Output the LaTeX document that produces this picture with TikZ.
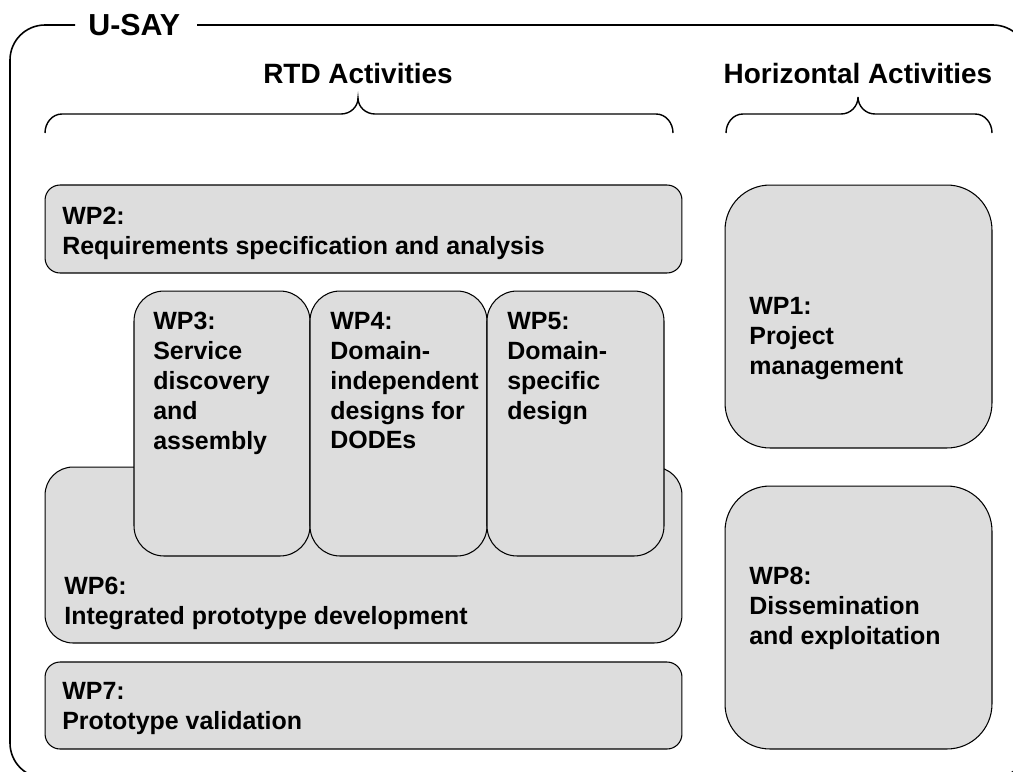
\documentclass[tikz,border=0pt]{standalone}
\usepackage{fontspec}
\setmainfont{Liberation Sans}
\begin{document}
\begin{tikzpicture}[x=0.02cm,y=-0.02cm,
  wpbox/.style={draw=black, fill=boxgray, line width=0.6pt, inner sep=0pt, outer sep=0pt},
  wptext/.style={anchor=north west, inner sep=0pt, align=left, font=\fontsize{14.2pt}{17pt}\selectfont\bfseries},
  title/.style={inner sep=0pt, font=\fontsize{15.9pt}{18pt}\selectfont\bfseries},
  bracestyle/.style={draw=black, line width=0.8pt},
  frame/.style={draw=black, line width=0.9pt, rounded corners=0.7cm}]
\definecolor{boxgray}{HTML}{DDDDDD}
\useasboundingbox (0,0) rectangle (1013,771);
% outer frame
\path[frame] (75,25) -- (10,25) -- (10,778) -- (1028,778) -- (1028,25) -- (197,25);
\node[title, anchor=base west, font=\fontsize{17.3pt}{20pt}\selectfont\bfseries] (usay) at (88,35) {U-SAY};
% titles
\node[title, anchor=base] (rtd) at (358,83) {RTD Activities};
\node[title, anchor=base] (hor) at (858,83) {Horizontal Activities};
% braces
\path[bracestyle] (45,133) to[out=90,in=180] (62,114) -- (341,114) to[out=0,in=-90] (358,98)
  to[out=-90,in=180] (375,114) -- (656,114) to[out=0,in=90] (673,133);
\path[bracestyle] (726,133) to[out=90,in=180] (743,114) -- (841,114) to[out=0,in=-90] (858,97)
  to[out=-90,in=180] (875,114) -- (975,114) to[out=0,in=90] (992,133);
% boxes
\node[wpbox, rounded corners=0.3cm, minimum width=12.74cm, minimum height=1.76cm] (wp2) at (363.5,229) {};
\node[wpbox, rounded corners=0.56cm, minimum width=12.74cm, minimum height=3.52cm] (wp6) at (363.5,555) {};
\node[wpbox, rounded corners=0.3cm, minimum width=12.74cm, minimum height=1.74cm] (wp7) at (363.5,705.5) {};
\node[wpbox, rounded corners=0.6cm, minimum width=3.52cm, minimum height=5.3cm] (wp3) at (222,423.5) {};
\node[wpbox, rounded corners=0.6cm, minimum width=3.54cm, minimum height=5.3cm] (wp4) at (398.5,423.5) {};
\node[wpbox, rounded corners=0.6cm, minimum width=3.54cm, minimum height=5.3cm] (wp5) at (575.5,423.5) {};
\node[wpbox, rounded corners=0.9cm, minimum width=5.34cm, minimum height=5.26cm] (wp1) at (858.5,316.5) {};
\node[wpbox, rounded corners=0.9cm, minimum width=5.34cm, minimum height=5.26cm] (wp8) at (858.5,617.5) {};
% texts
\node[wptext] (t2) at (62,207) {WP2:\\Requirements specification and analysis};
\node[wptext] (t3) at (153,312) {WP3:\\Service\\discovery\\and\\assembly};
\node[wptext] (t4) at (330,312) {WP4:\\Domain-\\independent\\designs for\\DODEs};
\node[wptext] (t5) at (507,312) {WP5:\\Domain-\\specific\\design};
\node[wptext] (t6) at (64,577) {WP6:\\Integrated prototype development};
\node[wptext] (t7) at (62,682) {WP7:\\Prototype validation};
\node[wptext] (t1) at (749,297) {WP1:\\Project\\management};
\node[wptext] (t8) at (749,567) {WP8:\\Dissemination\\and exploitation};
\end{tikzpicture}
\end{document}
